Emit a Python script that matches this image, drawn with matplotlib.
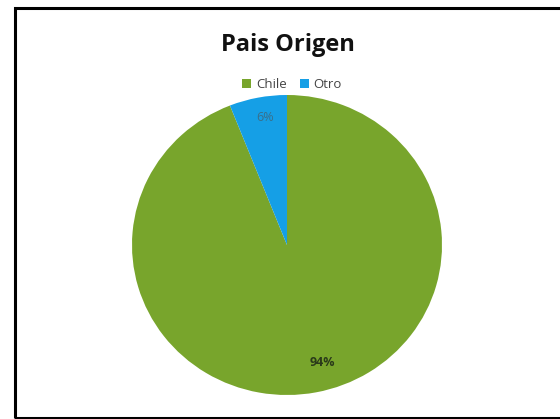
import matplotlib.pyplot as plt
from matplotlib.patches import Rectangle, Patch

# datos del grafico
categorias = ['Chile', 'Otro']
valores = [94, 6]
colores = ['#78a52c', '#159fe6']

plt.rcParams['font.family'] = ['Open Sans', 'DejaVu Sans']

fig = plt.figure(figsize=(5.6, 4.19), dpi=100)

# marco negro del grafico
fig.patches.append(Rectangle((15 / 560, 1 / 419), 560 / 560, 410 / 419,
                             transform=fig.transFigure, fill=False,
                             edgecolor='black', linewidth=2.2))

# pie: centro (287, 245), radios 155 x 150 px (imagen algo estirada)
rx, ry = 155, 150
cx, cy = 287, 245
ax = fig.add_axes([(cx - rx) / 560, (419 - cy - ry) / 419, 2 * rx / 560, 2 * ry / 419])
wedges, textos, autotextos = ax.pie(valores, colors=colores, startangle=90,
                                    counterclock=False, radius=1.0,
                                    autopct='%1.0f%%', pctdistance=0.8,
                                    wedgeprops=dict(linewidth=0))
# etiquetas como las pone Excel
autotextos[0].set_position((0.23, -0.78))
autotextos[0].set_color('#2a3a1a')
autotextos[0].set_fontweight('bold')
autotextos[0].set_fontsize(9)
autotextos[1].set_position((-0.14, 0.85))
autotextos[1].set_color('#3a6f8a')
autotextos[1].set_fontsize(9)
ax.set_xlim(-1, 1)
ax.set_ylim(-1, 1)
ax.set_aspect('auto')

fig.text(288 / 560, 1 - 45 / 419, 'Pais Origen', ha='center', va='center',
         fontsize=17, fontweight='bold', color='#111111')

handles = [Patch(facecolor=c, edgecolor='none', label=l) for c, l in zip(colores, categorias)]
fig.legend(handles=handles, loc='center', bbox_to_anchor=(292 / 560, 1 - 85 / 419),
           ncol=2, frameon=False, fontsize=9.5, handlelength=0.7, handleheight=0.7,
           handletextpad=0.35, columnspacing=1.0, labelcolor='#444444')

fig.savefig('out.png', dpi=100)
